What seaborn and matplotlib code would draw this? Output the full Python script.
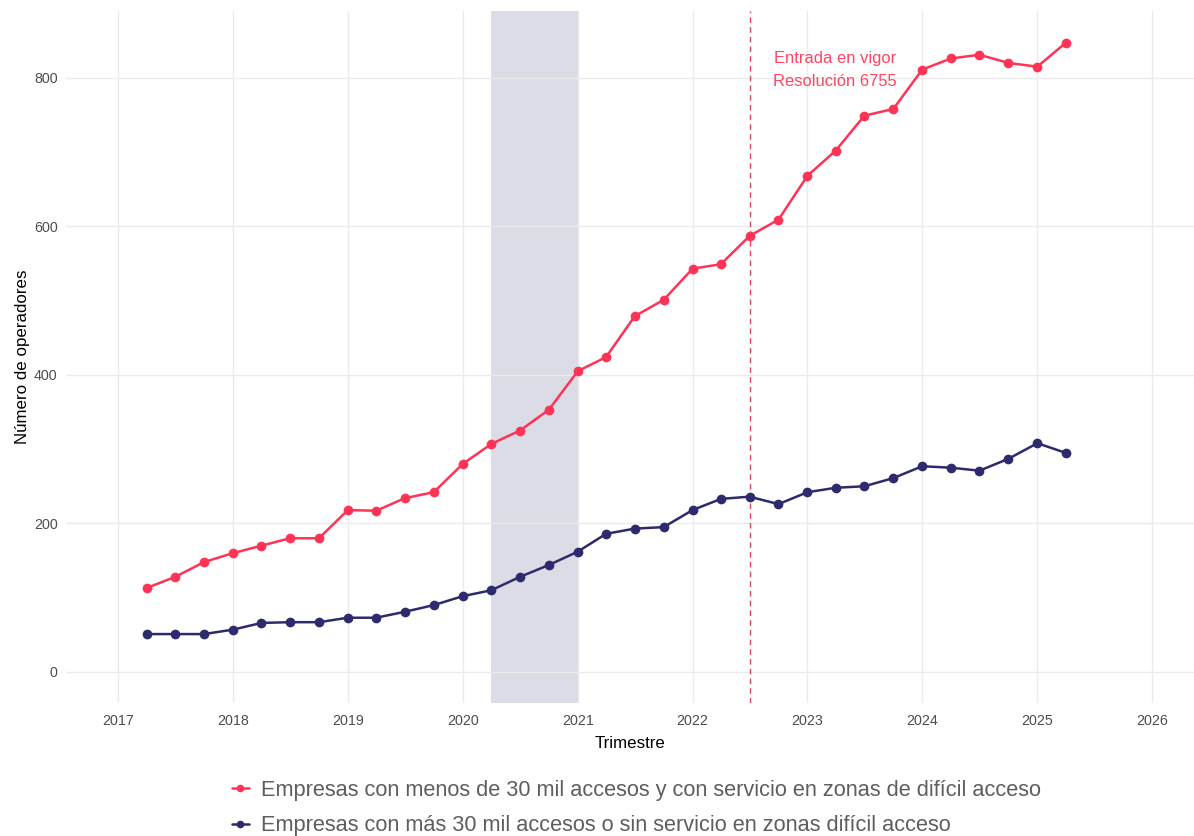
import numpy as np
import pandas as pd
import matplotlib
matplotlib.use("Agg")
import matplotlib.pyplot as plt
import matplotlib.dates as mdates
from matplotlib.lines import Line2D
import seaborn as sns

quarters = pd.date_range("2017-04-01", "2025-04-01", freq="QS").tolist()

red_label = "Empresas con menos de 30 mil accesos y con servicio en zonas de difícil acceso"
blue_label = "Empresas con más 30 mil accesos o sin servicio en zonas difícil acceso"

red_values = [113, 128, 148, 160, 170, 180, 180, 218, 217, 234, 242, 280, 307, 325, 353,
              405, 424, 479, 501, 543, 549, 587, 609, 668, 702, 749, 758, 811, 826, 831,
              820, 815, 847]
blue_values = [51, 51, 51, 57, 66, 67, 67, 73, 73, 81, 90, 102, 110, 128, 144,
               162, 186, 193, 195, 218, 233, 236, 226, 242, 248, 250, 261, 277, 275, 271,
               287, 308, 295]

shade_start = "2020-04-01"
shade_end = "2021-01-01"
event_date = "2022-07-01"
annotation = "Entrada en vigor\nResolución 6755"

red_color = "#FF3355"
blue_color = "#2E2A6E"

df = pd.DataFrame({
    "Trimestre": quarters * 2,
    "valor": red_values + blue_values,
    "grupo": [red_label] * len(red_values) + [blue_label] * len(blue_values),
})

sns.set_theme(style="whitegrid")
plt.rcParams["font.family"] = ["Liberation Sans", "DejaVu Sans"]

fig = plt.figure(figsize=(11.94, 8.36), dpi=100)
ax = fig.add_axes([0.0553, 0.1591, 0.9447, 0.8278])

ax.axvspan(pd.Timestamp(shade_start), pd.Timestamp(shade_end), color="#DCDCE6", zorder=0, lw=0)

sns.lineplot(data=df, x="Trimestre", y="valor", hue="grupo",
             palette={red_label: red_color, blue_label: blue_color},
             hue_order=[red_label, blue_label],
             marker="o", markersize=7, markeredgewidth=0, linewidth=1.8,
             ax=ax, legend=False, zorder=3)

ax.axvline(pd.Timestamp(event_date), color="#E0485F", linestyle=(0, (4, 3)), linewidth=1.0, zorder=2)
ax.text(pd.Timestamp("2023-03-30"), 810, annotation, color="#FF4562", fontsize=11.9,
        ha="center", va="center", multialignment="center", linespacing=1.65)

ax.set_xlim(pd.Timestamp("2016-07-19"), pd.Timestamp("2026-05-14"))
ax.set_ylim(-41.8, 890)
ax.xaxis.set_major_locator(mdates.YearLocator())
ax.xaxis.set_major_formatter(mdates.DateFormatter("%Y"))
ax.set_yticks([0, 200, 400, 600, 800])

for s in ax.spines.values():
    s.set_visible(False)
ax.grid(True, color="#EBEBEB", linewidth=1.0)
ax.set_facecolor("white")
ax.tick_params(axis="both", labelsize=10.3, colors="#4D4D4D", length=0)
ax.tick_params(axis="x", pad=8)
ax.tick_params(axis="y", pad=6)
ax.set_xlabel("Trimestre", fontsize=12.2, color="black", labelpad=6)
ax.set_ylabel("Número de operadores", fontsize=12.2, color="black", labelpad=3)

handles = [Line2D([], [], color=red_color, marker="o", markersize=5.5, linewidth=1.8, markeredgewidth=0),
           Line2D([], [], color=blue_color, marker="o", markersize=5.5, linewidth=1.8, markeredgewidth=0)]
leg = fig.legend(handles, [red_label, blue_label], loc="lower center", bbox_to_anchor=(0.533, -0.024),
                 ncol=1, frameon=False, fontsize=15.7, handlelength=0.8, handletextpad=0.55,
                 labelspacing=0.68)
for t in leg.get_texts():
    t.set_color("#5E5E5E")

fig.savefig("out.png", dpi=100, facecolor="white")
